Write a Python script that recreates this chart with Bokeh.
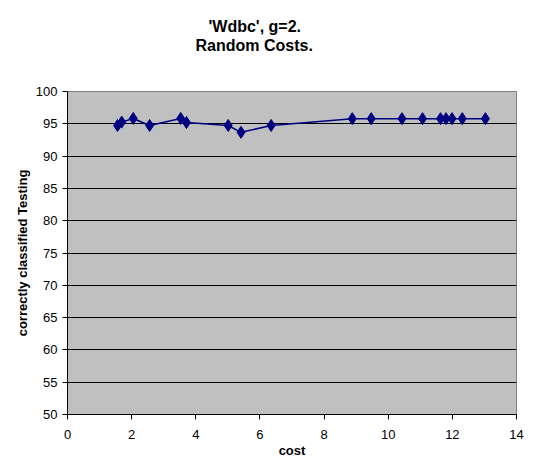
from bokeh.plotting import figure
from bokeh.models import Title, Range1d, FixedTicker
from bokeh.embed import file_html
from bokeh.resources import INLINE

title_lines = ["'Wdbc', g=2.", "Random Costs."]
x_label = "cost"
y_label = "correctly classified Testing"
x_ticks = [0, 2, 4, 6, 8, 10, 12, 14]
y_ticks = [50, 55, 60, 65, 70, 75, 80, 85, 90, 95, 100]

cost = [1.56, 1.69, 2.05, 2.56, 3.53, 3.71, 5.01, 5.41, 6.35,
        8.88, 9.47, 10.43, 11.07, 11.63, 11.80, 11.99, 12.31, 13.03]
accuracy = [94.74, 95.26, 95.83, 94.74, 95.83, 95.20, 94.74, 93.68, 94.74,
            95.80, 95.80, 95.80, 95.80, 95.80, 95.80, 95.80, 95.80, 95.80]

FONT = "Liberation Sans"

p = figure(width=524, height=460, output_backend="svg", toolbar_location=None,
           title=None, x_range=Range1d(0, 14), y_range=Range1d(50, 100),
           min_border_left=67, min_border_right=8, min_border_bottom=46,
           min_border_top=91)

# spacer between the title block and the plot frame
p.add_layout(Title(text=" ", align="center", text_font=FONT,
                   text_font_size="32px", standoff=0), "above")
p.add_layout(Title(text=title_lines[1], align="left", text_font=FONT,
                   text_font_size="16px", text_font_style="bold",
                   text_color="black", standoff=0, offset=128), "above")
p.add_layout(Title(text=title_lines[0], align="left", text_font=FONT,
                   text_font_size="16px", text_font_style="bold",
                   text_color="black", standoff=0, offset=141), "above")

p.background_fill_color = "#C0C0C0"
p.border_fill_color = "white"
p.outline_line_color = "#808080"
p.outline_line_width = 1

p.xgrid.grid_line_color = None
p.ygrid.grid_line_color = "black"
p.ygrid.grid_line_width = 1
p.ygrid.ticker = FixedTicker(ticks=y_ticks)

for ax in (p.xaxis[0], p.yaxis[0]):
    ax.axis_line_color = "black"
    ax.major_tick_line_color = "black"
    ax.major_tick_out = 5
    ax.major_tick_in = 0
    ax.minor_tick_line_color = None
    ax.major_label_text_font = FONT
    ax.major_label_text_font_size = "13px"
    ax.major_label_text_color = "black"
    ax.axis_label_text_font = FONT
    ax.axis_label_text_font_size = "13px"
    ax.axis_label_text_font_style = "bold"
    ax.axis_label_text_color = "black"

p.xaxis.ticker = FixedTicker(ticks=x_ticks)
p.yaxis.ticker = FixedTicker(ticks=y_ticks)
p.xaxis.axis_label = x_label
p.yaxis.axis_label = y_label
p.xaxis.major_label_standoff = 10
p.xaxis.axis_label_standoff = 1
p.yaxis.major_label_standoff = 5
p.yaxis.axis_label_standoff = 3

p.line(cost, accuracy, line_color="#000080", line_width=1.5)
p.scatter(cost, accuracy, marker="diamond", size=12, fill_color="#000080",
          line_color="#000080")

open("out.html", "w").write(file_html(p, INLINE))
